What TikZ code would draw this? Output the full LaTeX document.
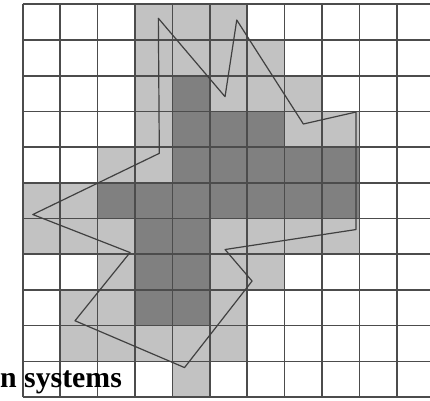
\documentclass[tikz,border=0pt]{standalone}
\usepackage{fontspec}
\setmainfont{Liberation Serif}
\definecolor{cellLight}{gray}{0.76}
\definecolor{cellDark}{gray}{0.5}
\definecolor{gridLine}{gray}{0.3}
\begin{document}
\begin{tikzpicture}[x=37.4pt,y=-35.7pt,line join=round,
  light/.style={fill=cellLight},dark/.style={fill=cellDark}]
  \useasboundingbox (-0.607,-0.12) rectangle (10.888,11.084);
  \clip (-0.607,-0.12) rectangle (10.888,11.084);
  % cells touched by the outline
  \fill[light] (3,0) rectangle (6,1);
  \fill[light] (3,1) rectangle (7,2);
  \fill[light] (3,2) rectangle (8,3);
  \fill[light] (3,3) rectangle (9,4);
  \fill[light] (2,4) rectangle (9,5);
  \fill[light] (0,5) rectangle (9,6);
  \fill[light] (0,6) rectangle (9,7);
  \fill[light] (2,7) rectangle (7,8);
  \fill[light] (1,8) rectangle (6,9);
  \fill[light] (1,9) rectangle (6,10);
  \fill[light] (4,10) rectangle (5,11);
  % cells inside the outline
  \fill[dark] (4,2) rectangle (5,3);
  \fill[dark] (4,3) rectangle (7,4);
  \fill[dark] (4,4) rectangle (9,5);
  \fill[dark] (2,5) rectangle (9,6);
  \fill[dark] (3,6) rectangle (5,9);
  \draw[gridLine,line width=1.6pt,xstep=37.4pt,ystep=35.7pt] (0,0) grid (11,11);
  % the outline
  \draw[black!75,line width=1.2pt] (3.626,0.392) -- (5.409,2.588) -- (5.722,0.440)
    -- (7.503,3.353) -- (8.912,3.017) -- (8.912,6.308) -- (5.409,6.868)
    -- (6.131,7.751) -- (4.326,10.174) -- (1.398,8.863) -- (2.869,6.952)
    -- (0.270,5.888) -- (3.652,4.174) -- cycle;
  \node[font=\bfseries\fontsize{29.8}{30}\selectfont,anchor=base west,inner sep=0pt]
    (caption) at (-0.607,10.739) {n systems};
\end{tikzpicture}
\end{document}
